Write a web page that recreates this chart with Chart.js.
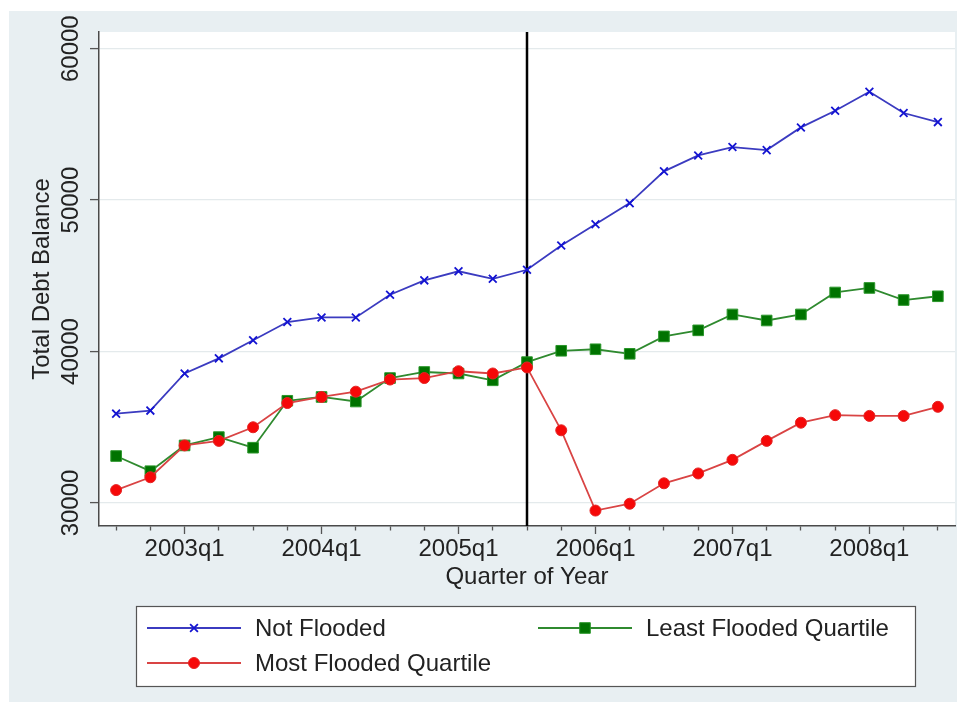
<!DOCTYPE html>
<html><head><meta charset="utf-8">
<script src="https://cdn.jsdelivr.net/npm/chart.js@4.4.1/dist/chart.umd.min.js"></script>
<style>html,body{margin:0;padding:0;background:#fff;}canvas{display:block;}</style>
</head><body>
<canvas id="c" width="958" height="704"></canvas>
<script>
const quarters = ['2002q3','2002q4',
  '2003q1','2003q2','2003q3','2003q4',
  '2004q1','2004q2','2004q3','2004q4',
  '2005q1','2005q2','2005q3','2005q4',
  '2006q1','2006q2','2006q3','2006q4',
  '2007q1','2007q2','2007q3','2007q4',
  '2008q1','2008q2','2008q3'];
const notFlooded   = [35900, 36100, 38550, 39550, 40750, 41950, 42250, 42250, 43750, 44700, 45300, 44800, 45400, 47000, 48400, 49800, 51900, 52950, 53500, 53300, 54800, 55900, 57150, 55750, 55150];
const leastFlooded = [33100, 32100, 33800, 34350, 33650, 36750, 37000, 36700, 38250, 38650, 38550, 38100, 39300, 40050, 40150, 39850, 41000, 41400, 42450, 42050, 42450, 43900, 44200, 43400, 43650];
const mostFlooded  = [30850, 31700, 33800, 34100, 35000, 36600, 37000, 37350, 38150, 38250, 38700, 38550, 38950, 34800, 29500, 29950, 31300, 31950, 32850, 34100, 35300, 35800, 35750, 35750, 36350];
const yTickValues = [30000, 40000, 50000, 60000];
const eventQuarter = '2005q3';
const yTitle = 'Total Debt Balance';
const xTitle = 'Quarter of Year';
const legendNames = ['Not Flooded', 'Least Flooded Quartile', 'Most Flooded Quartile'];

const FONT = "'Liberation Sans', Arial, Helvetica, sans-serif";
const TXT = '#222';

const bgPlugin = {
  id: 'bg',
  beforeDraw(chart) {
    const c = chart.ctx, a = chart.chartArea;
    c.save();
    c.fillStyle = '#ffffff';
    c.fillRect(0, 0, chart.width, chart.height);
    c.fillStyle = '#e8eff2';
    c.fillRect(9, 11, 948, 691);
    c.fillStyle = '#ffffff';
    c.fillRect(a.left, a.top, a.right - a.left, a.bottom - a.top);
    c.restore();
  }
};

const eventLine = {
  id: 'eventLine',
  beforeDatasetsDraw(chart) {
    const c = chart.ctx, a = chart.chartArea;
    const x = chart.scales.x.getPixelForValue(quarters.indexOf(eventQuarter));
    c.save();
    c.strokeStyle = '#000';
    c.lineWidth = 2.5;
    c.beginPath();
    c.moveTo(x, a.top);
    c.lineTo(x, a.bottom);
    c.stroke();
    c.restore();
  }
};

const yLabels = {
  id: 'yLabels',
  afterDraw(chart) {
    const c = chart.ctx, a = chart.chartArea, ys = chart.scales.y;
    c.save();
    c.fillStyle = TXT;
    c.font = '24px ' + FONT;
    c.textAlign = 'center';
    c.textBaseline = 'middle';
    ys.ticks.forEach(t => {
      const y = ys.getPixelForValue(t.value);
      c.save();
      c.translate(71, y);
      c.rotate(-Math.PI / 2);
      c.fillText(String(t.value), 0, 0);
      c.restore();
    });
    c.save();
    c.translate(42, (a.top + a.bottom) / 2);
    c.rotate(-Math.PI / 2);
    c.fillText(yTitle, 0, 0);
    c.restore();
    c.restore();
  }
};

const boxLegend = {
  id: 'boxLegend',
  afterDraw(chart) {
    const c = chart.ctx;
    c.save();
    c.fillStyle = '#ffffff';
    c.fillRect(136, 606, 780, 81);
    c.strokeStyle = '#555';
    c.lineWidth = 1.2;
    c.strokeRect(136.5, 606.5, 779, 80);
    const slots = [
      {name: legendNames[0], x: 147, y: 628},
      {name: legendNames[1], x: 538, y: 628},
      {name: legendNames[2], x: 147, y: 663}
    ];
    slots.forEach(s => {
      const ds = chart.data.datasets.find(d => d.label === s.name);
      c.strokeStyle = ds.borderColor;
      c.lineWidth = ds.borderWidth;
      c.beginPath();
      c.moveTo(s.x, s.y);
      c.lineTo(s.x + 94, s.y);
      c.stroke();
      c.fillStyle = ds.pointBackgroundColor;
      c.strokeStyle = ds.pointBorderColor;
      c.lineWidth = ds.pointBorderWidth;
      Chart.helpers.drawPoint(c, {pointStyle: ds.pointStyle, radius: ds.pointRadius, borderWidth: ds.pointBorderWidth, rotation: 0}, s.x + 47, s.y);
      c.fillStyle = TXT;
      c.font = '24px ' + FONT;
      c.textAlign = 'left';
      c.textBaseline = 'middle';
      c.fillText(s.name, s.x + 108, s.y + 1);
    });
    c.restore();
  }
};

new Chart(document.getElementById('c').getContext('2d'), {
  type: 'line',
  data: {
    labels: quarters,
    datasets: [
      {label: 'Most Flooded Quartile', data: mostFlooded, borderColor: '#d94444', borderWidth: 1.8,
       pointStyle: 'circle', pointRadius: 5.5, pointBackgroundColor: '#f60808', pointBorderColor: '#e52525', pointBorderWidth: 1, order: 0, tension: 0},
      {label: 'Least Flooded Quartile', data: leastFlooded, borderColor: '#2f8a2f', borderWidth: 1.8,
       pointStyle: 'rect', pointRadius: 7.5, pointBackgroundColor: '#007300', pointBorderColor: '#2a962a', pointBorderWidth: 1, order: 1, tension: 0},
      {label: 'Not Flooded', data: notFlooded, borderColor: '#3b3bc0', borderWidth: 1.8,
       pointStyle: 'crossRot', pointRadius: 5.5, pointBackgroundColor: '#1414d2', pointBorderColor: '#1414d2', pointBorderWidth: 1.8, order: 2, tension: 0}
    ]
  },
  options: {
    responsive: false,
    animation: false,
    devicePixelRatio: 1,
    layout: {autoPadding: false, padding: {left: 0, right: 3, top: 32, bottom: 108}},
    plugins: {legend: {display: false}, tooltip: {enabled: false}},
    scales: {
      x: {
        type: 'category',
        offset: true,
        afterFit(s) { s.height = 70; },
        grid: {
          offset: false, drawOnChartArea: false, tickLength: 8, tickColor: '#555', tickWidth: 1.3,
          tickBorderDash: (ctx) => (quarters[ctx.index] && quarters[ctx.index].endsWith('q1')) ? [] : [4, 30]
        },
        border: {color: '#4a4a4a', width: 1.5},
        ticks: {
          autoSkip: false, maxRotation: 0, minRotation: 0, padding: 3, color: TXT,
          font: {family: FONT, size: 24, lineHeight: 1},
          callback(v) { const l = this.getLabelForValue(v); return l.endsWith('q1') ? l : ''; }
        },
        title: {display: true, text: xTitle, color: TXT, font: {family: FONT, size: 24, lineHeight: 1.2}, padding: {top: 0, bottom: 4}}
      },
      y: {
        min: 28480, max: 61100,
        afterFit(s) { s.width = 99; },
        afterBuildTicks(s) { s.ticks = yTickValues.map(v => ({value: v})); },
        ticks: {display: false},
        grid: {color: '#e4eaec', lineWidth: 1.2, tickLength: 9, tickColor: '#555', tickWidth: 1.3},
        border: {color: '#4a4a4a', width: 1.5}
      }
    }
  },
  plugins: [bgPlugin, eventLine, yLabels, boxLegend]
});
</script>
</body></html>
